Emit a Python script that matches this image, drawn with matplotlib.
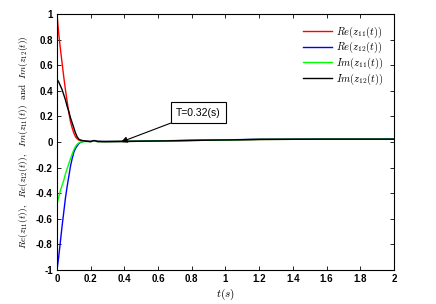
import matplotlib
matplotlib.use('Agg')
import matplotlib.pyplot as plt
from matplotlib.ticker import MultipleLocator, FuncFormatter

plt.rcParams['mathtext.fontset'] = 'cm'
plt.rcParams['font.family'] = ['Liberation Sans', 'DejaVu Sans']

# time samples
t = [0, 0.01, 0.02, 0.03, 0.04, 0.05, 0.06, 0.07, 0.08, 0.09, 0.10, 0.11,
     0.12, 0.13, 0.14, 0.16, 0.18, 0.20, 0.22, 0.24, 0.28, 0.35, 0.45,
     0.6, 0.8, 1.0, 1.2, 1.4, 1.6, 1.8, 2.0]

re11 = [1.0, 0.85, 0.73, 0.62, 0.51, 0.41, 0.32, 0.23, 0.16, 0.11, 0.07, 0.04,
        0.025, 0.015, 0.012, 0.01, 0.006, 0.004, 0.008, 0.004, 0.003, 0.004, 0.005,
        0.008, 0.012, 0.016, 0.02, 0.021, 0.022, 0.022, 0.022]
re12 = [-1.0, -0.9, -0.78, -0.66, -0.55, -0.44, -0.35, -0.27, -0.19, -0.13, -0.08, -0.05,
        -0.03, -0.012, -0.003, 0.006, 0.006, 0.004, 0.01, 0.005, 0.004, 0.004, 0.006,
        0.009, 0.013, 0.017, 0.021, 0.022, 0.023, 0.023, 0.023]
im11 = [-0.49, -0.43, -0.38, -0.34, -0.30, -0.25, -0.21, -0.17, -0.13, -0.095, -0.06, -0.035,
        -0.018, -0.006, 0.0, 0.003, 0.004, 0.003, 0.007, 0.003, 0.003, 0.004, 0.005,
        0.008, 0.012, 0.016, 0.02, 0.021, 0.022, 0.022, 0.022]
im12 = [0.49, 0.47, 0.44, 0.41, 0.37, 0.33, 0.28, 0.24, 0.19, 0.15, 0.11, 0.07,
        0.04, 0.022, 0.015, 0.008, 0.005, 0.003, 0.012, 0.004, 0.003, 0.004, 0.005,
        0.008, 0.012, 0.016, 0.02, 0.021, 0.022, 0.022, 0.022]

labels = [r'$Re(z_{11}(t))$', r'$Re(z_{12}(t))$', r'$Im(z_{11}(t))$', r'$Im(z_{12}(t))$']
colors = ['#ff0000', '#0000ff', '#00ff00', '#000000']

fig = plt.figure(figsize=(4.36, 3.04), dpi=100)
ax = fig.add_axes([0.1307, 0.1118, 0.773, 0.8422])

for y, lab, c in zip([re11, re12, im11, im12], labels, colors):
    ax.plot(t, y, color=c, lw=1.0, label=lab)

ax.set_xlim(0, 2)
ax.set_ylim(-1, 1)
ax.xaxis.set_major_locator(MultipleLocator(0.2))
ax.yaxis.set_major_locator(MultipleLocator(0.2))
fmt = FuncFormatter(lambda v, p: '%g' % round(v, 6) if abs(v) > 1e-9 else '0')
ax.xaxis.set_major_formatter(fmt)
ax.yaxis.set_major_formatter(fmt)
ax.tick_params(direction='in', top=True, right=True, length=3, width=0.6,
               labelsize=7, pad=3)
for lab in ax.get_xticklabels() + ax.get_yticklabels():
    lab.set_fontweight('bold')
for s in ax.spines.values():
    s.set_linewidth(0.8)

ax.set_xlabel(r'$t(s)$', fontsize=8, labelpad=2)
ax.set_ylabel(r'$Re(z_{11}(t)),\ \ Re(z_{12}(t)),\ \ Im(z_{11}(t))\ \ \mathrm{and}\ \ Im(z_{12}(t))$',
              fontsize=6.8, labelpad=4)

ax.annotate('T=0.32(s)', xy=(0.38, 0.0), xytext=(0.84, 0.23),
            fontsize=7.5, ha='center', va='center',
            bbox=dict(boxstyle='square,pad=0.5', fc='white', ec='black', lw=0.8),
            arrowprops=dict(arrowstyle='-|>', color='black', lw=0.8,
                            mutation_scale=9, shrinkA=0, shrinkB=0))

ax.legend(loc='upper right', frameon=False, fontsize=7.5, handlelength=2.8,
          labelspacing=0.05, borderaxespad=0.6, handletextpad=0.4)

fig.savefig('out.png', dpi=100)
